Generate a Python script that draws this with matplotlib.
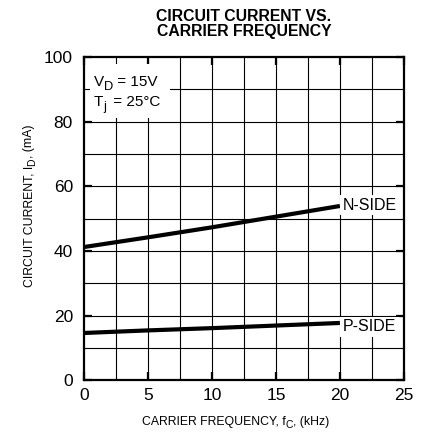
import matplotlib
matplotlib.use("Agg")
import matplotlib.pyplot as plt
from matplotlib.patches import Rectangle
from matplotlib.transforms import offset_copy
import numpy as np

plt.rcParams['font.family'] = ['Liberation Sans', 'DejaVu Sans']

freq_khz = [0, 5, 10, 15, 20]
n_side_ma = [41.2, 44.2, 47.3, 50.6, 53.9]
p_side_ma = [14.6, 15.4, 16.1, 16.9, 17.7]

x_ticks = [0, 5, 10, 15, 20, 25]
y_ticks = [0, 20, 40, 60, 80, 100]

fig = plt.figure(figsize=(4.31, 4.32), dpi=100)
ax = fig.add_axes([0.195, 0.120, 0.742, 0.748])
renderer = fig.canvas.get_renderer()


def text_advance(s, size):
    """Advance width in pixels of a string, including leading/trailing spaces."""
    t1 = fig.text(0, 0, '|' + s + '|', fontsize=size)
    t2 = fig.text(0, 0, '||', fontsize=size)
    w = t1.get_window_extent(renderer).width - t2.get_window_extent(renderer).width
    t1.remove()
    t2.remove()
    return w


def draw_runs(x, y, runs, transform, rotation=0, center=False, zorder=4):
    """Draw text made of runs (text, size, baseline shift in points, extra gap in points)."""
    items = []
    adv = 0.0
    for s, size, dy, gap in runs:
        t = ax.text(x, y, s, fontsize=size, transform=transform, rotation=rotation,
                    rotation_mode='anchor', ha='left', va='baseline', zorder=zorder,
                    clip_on=False)
        items.append((t, adv, dy))
        adv += text_advance(s, size) + gap * fig.dpi / 72.0
    shift = -adv / 2 if center else 0.0
    for t, a, dy in items:
        a += shift
        dpx = dy * fig.dpi / 72.0
        if rotation == 0:
            ox, oy = a, dpx
        else:
            ox, oy = -dpx, a
        t.set_transform(offset_copy(transform, fig=fig, x=ox, y=oy, units='dots'))


ax.set_xlim(0, 25)
ax.set_ylim(0, 100)

# grid
for gx in np.arange(2.5, 25, 2.5):
    ax.axvline(gx, color='black', lw=0.8, zorder=1)
for gy in np.arange(10, 100, 10):
    ax.axhline(gy, color='black', lw=0.8, zorder=1)

ax.plot(freq_khz, n_side_ma, color='black', lw=3.0, zorder=3, solid_capstyle='butt')
ax.plot(freq_khz, p_side_ma, color='black', lw=3.0, zorder=3, solid_capstyle='butt')

ax.text(20.25, n_side_ma[-1] + 0.3, 'N-SIDE', fontsize=11.5, va='center', ha='left',
        bbox=dict(facecolor='white', edgecolor='none', pad=2.0), zorder=4)
ax.text(20.25, p_side_ma[-1] - 1.2, 'P-SIDE', fontsize=11.5, va='center', ha='left',
        bbox=dict(facecolor='white', edgecolor='none', pad=2.0), zorder=4)

# white box behind the conditions text
ax.add_patch(Rectangle((0.45, 81.0), 6.25, 16.8, facecolor='white', edgecolor='none', zorder=2))
draw_runs(0.75, 91.0, [('V', 11, 0, 0), ('D', 9.3, -2.5, 0), (' = 15V', 11, 0, 0)], ax.transData)
draw_runs(0.75, 84.7, [('T', 11, 0, 0), ('j', 9.3, -2.5, 2.0), (' = 25°C', 11, 0, 0)], ax.transData)

ax.set_xticks(x_ticks)
ax.set_yticks(y_ticks)
ax.tick_params(direction='in', length=5.5, width=1.6, labelsize=12.5,
               top=True, right=True)
ax.tick_params(axis='y', pad=8)
ax.tick_params(axis='x', pad=6)
for s in ax.spines.values():
    s.set_linewidth(1.6)
    s.set_zorder(5)

# axis labels
draw_runs(0.475, -0.139,
          [('CARRIER FREQUENCY, f', 8.8, 0, 0), ('C', 7.5, -2.0, 0), (', (kHz)', 8.8, 0, 0)],
          ax.transAxes, center=True)
draw_runs(-0.1625, 0.539,
          [('CIRCUIT CURRENT, I', 8.8, 0, 0), ('D', 7.5, -2.0, 0), (', (mA)', 8.8, 0, 0)],
          ax.transAxes, rotation=90, center=True)

ax.set_title('CIRCUIT CURRENT VS.\nCARRIER FREQUENCY', fontsize=11.3, fontweight='bold',
             linespacing=1.0, pad=15)

fig.savefig('out.png', dpi=100)
